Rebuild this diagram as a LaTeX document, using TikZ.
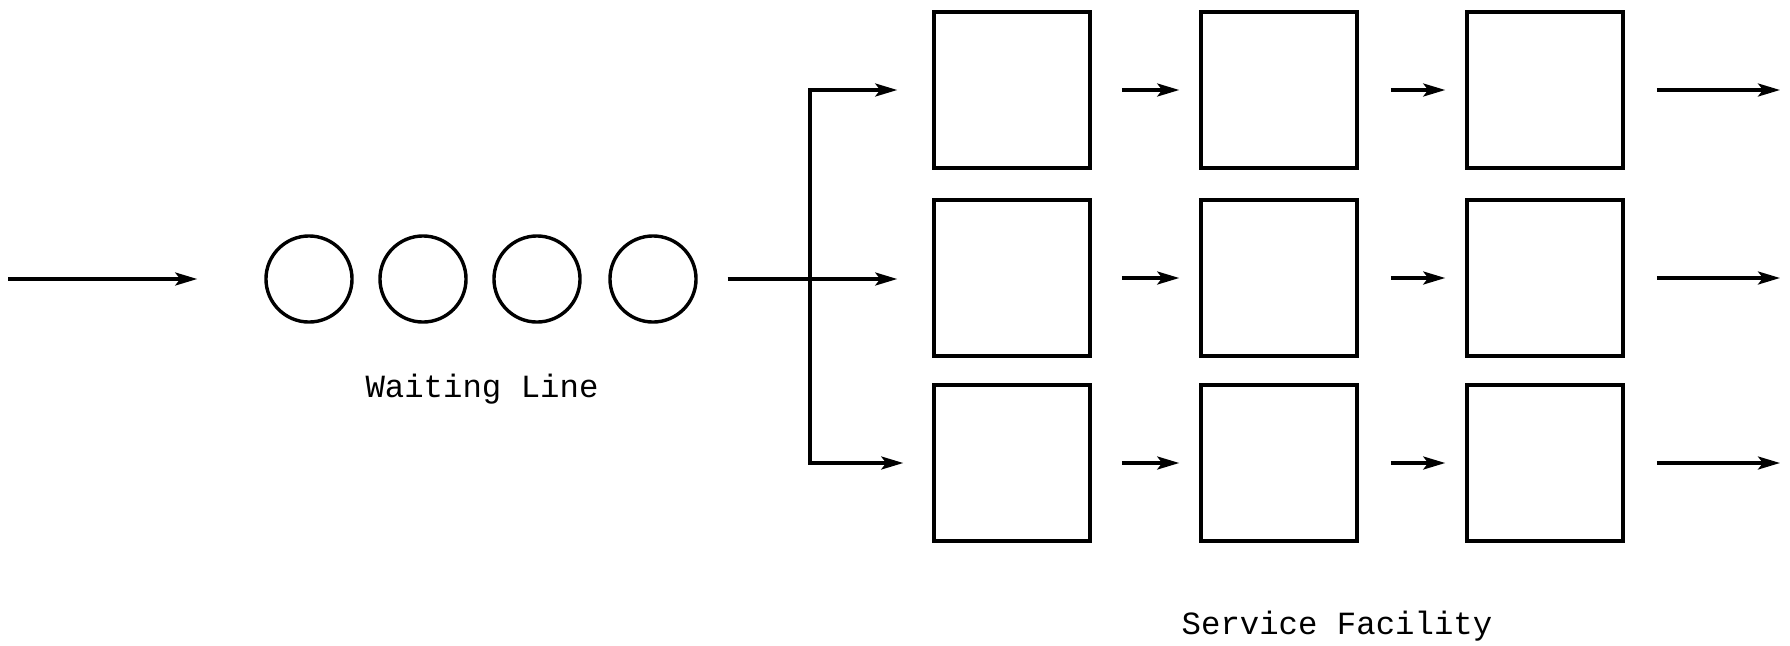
\documentclass[tikz,border=0pt]{standalone}
\usepackage{fontspec}
\setmonofont{Liberation Mono}
\usetikzlibrary{arrows.meta}
\begin{document}
\begin{tikzpicture}[x=0.01cm, y=-0.01cm,
  line width=0.034cm,
  server/.style={draw, minimum width=1.56cm, minimum height=1.56cm, inner sep=0pt},
  customer/.style={draw, circle, minimum size=0.86cm, inner sep=0pt},
  flow/.style={-{Stealth[length=0.22cm, width=0.13cm, inset=0.05cm]}},
  caption/.style={font=\ttfamily\fontsize{9.2pt}{11pt}\selectfont, anchor=base, inner sep=0pt}]
\useasboundingbox (0,0) rectangle (1790,645);

% customers in the queue
\node[customer] (q1) at (309,279) {};
\node[customer] (q2) at (423,279) {};
\node[customer] (q3) at (537,279) {};
\node[customer] (q4) at (653,279) {};
\node[caption] (wl) at (482,397) {Waiting Line};

% arrival stream
\coordinate (src) at (8,279);
\draw[flow, shorten >=0.67cm] (src) -- (q1.west);

% service stages: three channels, three phases each
\foreach \r/\y in {1/90, 2/278, 3/463} {
  \foreach \c/\x in {1/1012, 2/1279, 3/1545} {
    \node[server] (b\r\c) at (\x,\y) {};
  }
  \coordinate (out\r) at (1780,\y);
}
\node[caption] (sf) at (1337,634) {Service Facility};

% queue splits into the three channels
\coordinate (fork) at (810,279);
\draw[flow, shorten <=0.30cm, shorten >=0.35cm] (q4.east) -- (q4.east -| b21.west);
\draw[flow, shorten >=0.35cm] (fork) |- (b11.west);
\draw[flow, shorten >=0.29cm] (fork) |- (b31.west);

% flow between phases and departures
\foreach \r in {1,2,3} {
  \draw[flow, shorten <=0.30cm, shorten >=0.20cm] (b\r1.east) -- (b\r2.west);
  \draw[flow, shorten <=0.32cm, shorten >=0.20cm] (b\r2.east) -- (b\r3.west);
  \draw[flow, shorten <=0.32cm] (b\r3.east) -- (out\r);
}
\end{tikzpicture}
\end{document}
